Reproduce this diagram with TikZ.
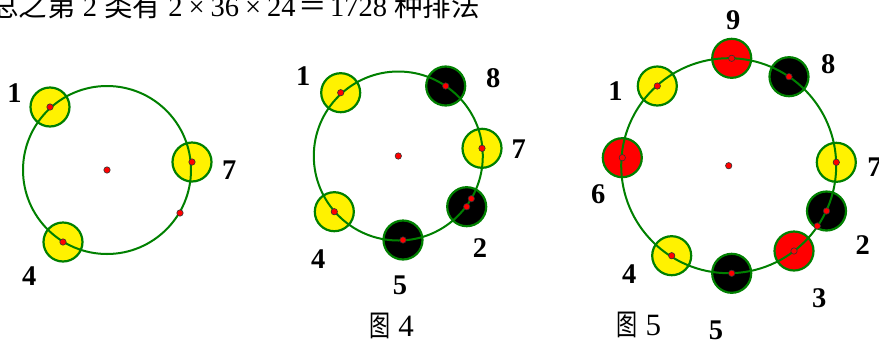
\documentclass[tikz,border=0pt]{standalone}
\usepackage{fontspec}
\setmainfont{Liberation Serif}
\newfontfamily\cjk{Noto Sans CJK SC}
\definecolor{ringgreen}{RGB}{0,128,0}
\definecolor{dotred}{RGB}{255,0,0}
\newcommand{\zi}[1]{{\cjk\scalebox{0.68}[0.95]{#1}}}
\tikzset{
	ring/.style = {draw = ringgreen, line width = 2pt},
	ball/.style = {draw = ringgreen, line width = 2.2pt},
	pin/.style = {draw = black!80, fill = dotred, line width = 0.6pt},
	num/.style = {font = \fontsize{28.5}{30}\selectfont\bfseries, inner sep = 0pt},
	figcap/.style = {font = \fontsize{31}{33}\selectfont, inner sep = 0pt, anchor = base},
	head/.style = {font = \fontsize{28.5}{30}\selectfont, inner sep = 0pt, anchor = base west}
}
\begin{document}
\begin{tikzpicture}[x = 1pt, y = -1pt]
	\clip (0,0) rectangle (879,341);
	\node[head] (sum) at (-10,16) {{\cjk 总之第} 2 {\cjk 类有} 2\kern6pt×\kern6pt36\kern6pt×\kern6pt24\kern3pt{\cjk ＝}\kern3pt1728 {\cjk 种排法}};
	
	% first ring
	\coordinate (o) at (107,170);
	\coordinate (a1) at (50,107);
	\coordinate (a7) at (192,162);
	\coordinate (a4) at (63,242);
	\coordinate (ax) at (180,213);
	\draw[ball, fill = yellow] (a1) circle (19.5pt);
	\draw[ball, fill = yellow] (a7) circle (19.5pt);
	\draw[ball, fill = yellow] (a4) circle (19.5pt);
	\draw[ring] (o) circle (84pt);
	\foreach \p in {o, a1, a7, a4, ax}
		\draw[pin] (\p) circle (3.2pt);
	\node[num] (n1) at (14.5,93) {1};
	\node[num] (n7) at (229.3,170) {7};
	\node[num] (n4) at (29.3,276.3) {4};
	
	% second ring
	\coordinate (p) at (398.3,156);
	\coordinate (b1) at (340.7,92.7);
	\coordinate (b8) at (445.7,86);
	\coordinate (b7) at (482,148.3);
	\coordinate (b2) at (466.7,206.7);
	\coordinate (bx) at (471.3,198.7);
	\coordinate (b5) at (403,240);
	\coordinate (b4) at (334.3,211.7);
	\draw[ball, fill = yellow] (b1) circle (19.5pt);
	\draw[ball, fill = black] (b8) circle (19.5pt);
	\draw[ball, fill = yellow] (b7) circle (19.5pt);
	\draw[ball, fill = black] (b2) circle (19.5pt);
	\draw[ball, fill = black] (b5) circle (19.5pt);
	\draw[ball, fill = yellow] (b4) circle (19.5pt);
	\draw[ring] (p) circle (84.5pt);
	\foreach \p in {p, b1, b8, b7, b2, bx, b5, b4}
		\draw[pin] (\p) circle (3.2pt);
	\node[num] (m1) at (303.3,76.3) {1};
	\node[num] (m8) at (493.3,77.8) {8};
	\node[num] (m7) at (518.7,148.8) {7};
	\node[num] (m2) at (480,247.8) {2};
	\node[num] (m5) at (400,285.8) {5};
	\node[num] (m4) at (318.3,258.8) {4};
	\node[figcap] (fig4) at (391.7,336) {\zi{图} 4};
	
	% third ring
	\coordinate (q) at (728.7,165.7);
	\coordinate (c9) at (731.7,58.3);
	\coordinate (c8) at (789,76.7);
	\coordinate (c7) at (836.3,162.3);
	\coordinate (c2) at (826.5,211);
	\coordinate (cx) at (817.3,226);
	\coordinate (c3) at (794,251);
	\coordinate (c5) at (731.7,273.3);
	\coordinate (c4) at (671.7,255.7);
	\coordinate (c6) at (622.3,157.7);
	\coordinate (c1) at (657.3,86);
	\draw[ball, fill = dotred] (c9) circle (19.5pt);
	\draw[ball, fill = black] (c8) circle (19.5pt);
	\draw[ball, fill = yellow] (c7) circle (19.5pt);
	\draw[ball, fill = black] (c2) circle (19.5pt);
	\draw[ball, fill = dotred] (c3) circle (19.5pt);
	\draw[ball, fill = black] (c5) circle (19.5pt);
	\draw[ball, fill = yellow] (c4) circle (19.5pt);
	\draw[ball, fill = dotred] (c6) circle (19.5pt);
	\draw[ball, fill = yellow] (c1) circle (19.5pt);
	\draw[ring] (q) circle (107.5pt);
	\foreach \p in {q, c9, c8, c7, c2, cx, c3, c5, c4, c6, c1}
		\draw[pin] (\p) circle (3.2pt);
	\node[num] (k9) at (733.3,19.7) {9};
	\node[num] (k8) at (828.3,64.5) {8};
	\node[num] (k1) at (615.5,91.2) {1};
	\node[num] (k7) at (874.5,167) {7};
	\node[num] (k6) at (598.3,194.5) {6};
	\node[num] (k2) at (862.7,245.5) {2};
	\node[num] (k4) at (629.3,274.5) {4};
	\node[num] (k3) at (819.3,298.3) {3};
	\node[num] (k5) at (716,330.3) {5};
	\node[figcap] (fig5) at (639,335) {\zi{图} 5};
\end{tikzpicture}
\end{document}
